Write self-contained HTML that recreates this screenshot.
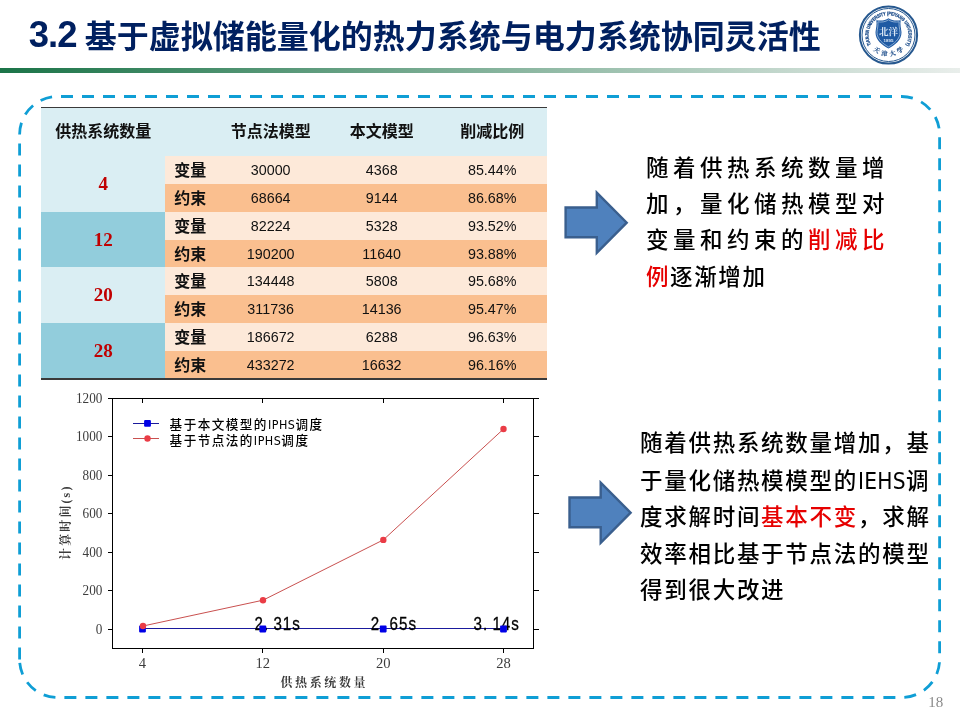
<!DOCTYPE html>
<html lang="zh-CN">
<head>
<meta charset="utf-8">
<title>3.2 基于虚拟储能量化的热力系统与电力系统协同灵活性</title>
<style>
html,body{margin:0;padding:0;background:#fff;}
body{width:960px;height:720px;position:relative;overflow:hidden;font-family:"Liberation Sans","Noto Sans CJK SC",sans-serif;}
#gfx{position:absolute;left:0;top:0;width:960px;height:720px;}
#title{position:absolute;left:28.8px;top:12.5px;margin:0;font-size:32px;line-height:46px;font-weight:bold;color:#002060;white-space:nowrap;letter-spacing:0;}
#title .num{font-size:36.5px;display:inline-block;width:56px;line-height:46px;vertical-align:baseline;position:relative;top:-0.5px;letter-spacing:-1px;}
#bar{position:absolute;left:0;top:68.2px;width:960px;height:5.2px;background:linear-gradient(to right,#1b7448 0%,#e9eeeb 100%);}
table#tb{position:absolute;left:41.2px;top:108.1px;border-collapse:separate;border-spacing:0;table-layout:fixed;width:505.8px;}
.tline{position:absolute;left:41.2px;width:505.8px;background:#3a3a3a;}
#tl1{top:106.6px;height:1.5px;}
#tl2{top:378.3px;height:1.5px;}
#tb tr.s td{height:27px;}
#tb td,#tb th{line-height:20px;padding:0;margin:0;text-align:center;vertical-align:middle;overflow:hidden;white-space:nowrap;}
#tb th{height:48px;background:#daeef3;font-size:16px;font-weight:bold;color:#111;box-sizing:border-box;}
#tb td{height:28px;font-size:14.3px;color:#111;}
#tb td.lab{font-weight:bold;font-size:16px;padding-top:2px;box-sizing:border-box;}
#tb td.n{font-family:"Liberation Serif","Noto Serif CJK SC",serif;font-weight:bold;color:#c00000;font-size:19px;}
#tb .g1{background:#daeef3;}
#tb .g2{background:#92cddc;}
#tb tr.a td.v,#tb tr.a td.lab{background:#fde9d9;}
#tb tr.b td.v,#tb tr.b td.lab{background:#fabf8f;}
.para{position:absolute;margin:0;color:#000;font-family:"Liberation Sans","Noto Sans CJK SC",sans-serif;font-weight:500;font-size:22.5px;line-height:36.4px;letter-spacing:1.6px;white-space:nowrap;}
.para .r{color:#e60000;}
.para .hw{font-family:"DejaVu Sans Condensed","Liberation Sans",sans-serif;font-weight:400;font-size:22.5px;letter-spacing:0.3px;}
#p1{left:646px;top:150.6px;line-height:36.4px;}
#p1 .j{letter-spacing:4.5px;}
#p2{left:640px;top:426.3px;letter-spacing:1.72px;}
#pn{position:absolute;left:928.3px;top:693.6px;font-family:"Liberation Serif",serif;font-size:15px;color:#8a8a8a;line-height:16px;}
</style>
</head>
<body>
<svg id="gfx" viewBox="0 0 960 720" width="960" height="720">
<!-- dashed frame -->
<path d="M19.6,134.5 A38,38 0 0 1 57.6,96.5 H901.6 A38,38 0 0 1 939.6,134.5 V659.5 A38,38 0 0 1 901.6,697.5 H57.6 A38,38 0 0 1 19.6,659.5 M19.6,659.5 V134.5" fill="none" stroke="#0f9ed5" stroke-width="2.8" stroke-dasharray="12 9"/>
<!-- chart -->
<g id="chart">
<rect x="112.5" y="398.5" width="421.0" height="250.0" fill="#fff" stroke="#000" stroke-width="1" shape-rendering="crispEdges"/>
<path d="M108.0,629.5H112.5M533.5,629.5H539.0M108.0,590.5H112.5M533.5,590.5H539.0M108.0,552.5H112.5M533.5,552.5H539.0M108.0,513.5H112.5M533.5,513.5H539.0M108.0,475.5H112.5M533.5,475.5H539.0M108.0,436.5H112.5M533.5,436.5H539.0M108.0,398.5H112.5M533.5,398.5H539.0M142.5,398.5V403.0M142.5,648.5V653.0M262.5,398.5V403.0M262.5,648.5V653.0M383.5,398.5V403.0M383.5,648.5V653.0M503.5,398.5V403.0M503.5,648.5V653.0" fill="none" stroke="#000" stroke-width="1" shape-rendering="crispEdges"/>
<g font-family="'Liberation Serif',serif" font-size="15" fill="#3c3c3c" text-anchor="end">
<text x="102.4" y="633.9" textLength="6.6" lengthAdjust="spacingAndGlyphs">0</text>
<text x="102.4" y="594.9" textLength="19.8" lengthAdjust="spacingAndGlyphs">200</text>
<text x="102.4" y="556.9" textLength="19.8" lengthAdjust="spacingAndGlyphs">400</text>
<text x="102.4" y="517.9" textLength="19.8" lengthAdjust="spacingAndGlyphs">600</text>
<text x="102.4" y="479.9" textLength="19.8" lengthAdjust="spacingAndGlyphs">800</text>
<text x="102.4" y="440.9" textLength="26.4" lengthAdjust="spacingAndGlyphs">1000</text>
<text x="102.4" y="402.9" textLength="26.4" lengthAdjust="spacingAndGlyphs">1200</text>
</g>
<g font-family="'Liberation Serif',serif" font-size="14.6" fill="#3c3c3c" text-anchor="middle">
<text x="142.5" y="668.3">4</text>
<text x="262.8" y="668.3">12</text>
<text x="383.2" y="668.3">20</text>
<text x="503.5" y="668.3">28</text>
</g>
<text x="324.3" y="686.8" text-anchor="middle" font-family="'Liberation Serif','Noto Serif CJK SC',serif" font-weight="700" font-size="12" letter-spacing="2.6" fill="#3a3a3a">供热系统数量</text>
<text transform="translate(69.6,522.2) rotate(-90)" text-anchor="middle" font-family="'Liberation Serif','Noto Serif CJK SC',serif" font-weight="700" font-size="12" letter-spacing="2.1" fill="#3a3a3a">计算时间(s)</text>
<path d="M142.5,628.5H503.5" stroke="#1a1a9c" stroke-width="1" fill="none" shape-rendering="crispEdges"/>
<text transform="translate(254.6,630.4) scale(0.86,1)" x="0.00 10.93 21.86 32.79 43.72" y="0" font-family="'Liberation Sans',sans-serif" font-size="17.6" fill="#000" stroke="#000" stroke-width="0.3">2.31s</text>
<text transform="translate(370.8,630.4) scale(0.86,1)" x="0.00 10.93 21.86 32.79 43.72" y="0" font-family="'Liberation Sans',sans-serif" font-size="17.6" fill="#000" stroke="#000" stroke-width="0.3">2.65s</text>
<text transform="translate(473.6,630.4) scale(0.86,1)" x="0.00 10.93 21.86 32.79 43.72" y="0" font-family="'Liberation Sans',sans-serif" font-size="17.6" fill="#000" stroke="#000" stroke-width="0.3">3.14s</text>
<rect x="139.1" y="625.6" width="6.8" height="6.8" rx="0.8" fill="#0000e6"/>
<rect x="259.4" y="625.6" width="6.8" height="6.8" rx="0.8" fill="#0000e6"/>
<rect x="379.8" y="625.6" width="6.8" height="6.8" rx="0.8" fill="#0000e6"/>
<rect x="500.1" y="625.6" width="6.8" height="6.8" rx="0.8" fill="#0000e6"/>
<polyline points="143.0,626.0 263.0,600.2 383.3,539.9 503.5,429.0" fill="none" stroke="#c9504f" stroke-width="1"/>
<circle cx="143.0" cy="626.0" r="3.2" fill="#ea3c46"/>
<circle cx="263.0" cy="600.2" r="3.2" fill="#ea3c46"/>
<circle cx="383.3" cy="539.9" r="3.2" fill="#ea3c46"/>
<circle cx="503.5" cy="429.0" r="3.2" fill="#ea3c46"/>
<path d="M133,423.5H158.8" stroke="#1a1a9c" stroke-width="1" fill="none" shape-rendering="crispEdges"/>
<rect x="144.1" y="420" width="6.8" height="6.8" rx="1" fill="#0000e6"/>
<path d="M133,438.5H158.8" stroke="#c9504f" stroke-width="1" fill="none" shape-rendering="crispEdges"/>
<circle cx="147.5" cy="438.5" r="3.2" fill="#ea3c46"/>
<g font-family="'Liberation Sans','Noto Sans CJK SC',sans-serif" font-weight="500" font-size="12.6" fill="#000" letter-spacing="1.45">
<text x="169.6" y="428.8">基于本文模型的<tspan font-family="'DejaVu Sans Condensed','Liberation Sans',sans-serif" font-weight="400" font-size="12.4" letter-spacing="0.5">IPHS</tspan>调度</text>
<text x="169.6" y="444.9">基于节点法的<tspan font-family="'DejaVu Sans Condensed','Liberation Sans',sans-serif" font-weight="400" font-size="12.4" letter-spacing="0.5">IPHS</tspan>调度</text>
</g>
</g>
<!-- logo -->
<g id="logo" transform="translate(888.5,35)">
<circle r="28.6" fill="#fff" stroke="#26588f" stroke-width="2"/>
<circle r="26.5" fill="none" stroke="#26588f" stroke-width="1"/>
<path id="ring" d="M-17.40,9.65 A19.9,19.9 0 1 1 17.40,9.65" fill="none"/>
<text font-family="'Liberation Sans',sans-serif" font-weight="bold" font-size="4.9" fill="#1f4f8c" stroke="#1f4f8c" stroke-width="0.28"><textPath href="#ring" startOffset="0" textLength="82.7" lengthAdjust="spacingAndGlyphs">TIANJIN UNIVERSITY (PEIYANG UNIVERSITY)</textPath></text>
<path d="M0,-16.8 C-3,-14.4 -8,-14 -12.2,-14.8 C-11.4,-10.8 -12.6,-6.8 -13,-2.8 C-13.2,5 -6,10.4 0,13.6 C6,10.4 13.2,5 13,-2.8 C12.6,-6.8 11.4,-10.8 12.2,-14.8 C8,-14 3,-14.4 0,-16.8 Z" fill="#1f5aa3"/>
<path d="M0,-15.2 C-3,-13 -7.2,-12.6 -10.7,-13.2 C-10.1,-9.8 -11.2,-6.4 -11.5,-2.8 C-11.7,4 -5.4,8.9 0,11.9 C5.4,8.9 11.7,4 11.5,-2.8 C11.2,-6.4 10.1,-9.8 10.7,-13.2 C7.2,-12.6 3,-13 0,-15.2 Z" fill="none" stroke="#cfe0f2" stroke-width="0.6"/>
<text x="0" y="0.2" text-anchor="middle" font-family="'Liberation Serif','Noto Serif CJK SC',serif" font-weight="bold" font-size="9.6" fill="#dbe8f6">北洋</text>
<text x="0" y="7" text-anchor="middle" font-family="'Liberation Sans',sans-serif" font-weight="bold" font-size="4.4" fill="#dbe8f6">1895</text>
<path id="ring2" d="M-16.71,13.05 A21.2,21.2 0 0 0 16.71,13.05" fill="none"/>
<text font-family="'Liberation Serif','Noto Serif CJK SC',serif" font-weight="bold" font-size="6.2" fill="#1f4f8c" stroke="#1f4f8c" stroke-width="0.15"><textPath href="#ring2" startOffset="54%" text-anchor="middle" letter-spacing="2.9">天津大学</textPath></text>
</g>
<!-- arrows -->
<g fill="#4f81bd" stroke="#3a5f8e" stroke-width="2.4" stroke-linejoin="miter">
<path d="M565.60,207.45 L596.80,207.45 L596.80,192.65 L626.70,222.70 L596.80,252.75 L596.80,237.30 L565.60,237.30 Z"/>
<path d="M569.50,497.45 L600.70,497.45 L600.70,482.65 L630.60,512.70 L600.70,542.75 L600.70,527.30 L569.50,527.30 Z"/>
</g>
</svg>
<div id="bar"></div>
<h1 id="title"><span class="num">3.2 </span>基于虚拟储能量化的热力系统与电力系统协同灵活性</h1>

<table id="tb">
<colgroup><col style="width:124px"><col style="width:50px"><col style="width:111px"><col style="width:111px"><col style="width:110px"></colgroup>
<tr><th>供热系统数量</th><th></th><th>节点法模型</th><th>本文模型</th><th>削减比例</th></tr>
<tr class="a"><td class="n g1" rowspan="2">4</td><td class="lab">变量</td><td class="v">30000</td><td class="v">4368</td><td class="v">85.44%</td></tr>
<tr class="b"><td class="lab">约束</td><td class="v">68664</td><td class="v">9144</td><td class="v">86.68%</td></tr>
<tr class="a"><td class="n g2" rowspan="2">12</td><td class="lab">变量</td><td class="v">82224</td><td class="v">5328</td><td class="v">93.52%</td></tr>
<tr class="b s"><td class="lab">约束</td><td class="v">190200</td><td class="v">11640</td><td class="v">93.88%</td></tr>
<tr class="a"><td class="n g1" rowspan="2">20</td><td class="lab">变量</td><td class="v">134448</td><td class="v">5808</td><td class="v">95.68%</td></tr>
<tr class="b"><td class="lab">约束</td><td class="v">311736</td><td class="v">14136</td><td class="v">95.47%</td></tr>
<tr class="a"><td class="n g2" rowspan="2">28</td><td class="lab">变量</td><td class="v">186672</td><td class="v">6288</td><td class="v">96.63%</td></tr>
<tr class="b s"><td class="lab">约束</td><td class="v">433272</td><td class="v">16632</td><td class="v">96.16%</td></tr>
</table>
<div class="tline" id="tl1"></div><div class="tline" id="tl2"></div>

<p class="para" id="p1"><span class="j">随着供热系统数量增</span><br><span class="j">加，量化储热模型对</span><br><span class="j">变量和约束的<span class="r">削减比</span></span><br><span class="r">例</span>逐渐增加</p>
<p class="para" id="p2">随着供热系统数量增加，基<br>于量化储热模模型的<span class="hw">IEHS</span>调<br>度求解时间<span class="r">基本不变</span>，求解<br>效率相比基于节点法的模型<br>得到很大改进</p>
<div id="pn">18</div>
</body>
</html>
